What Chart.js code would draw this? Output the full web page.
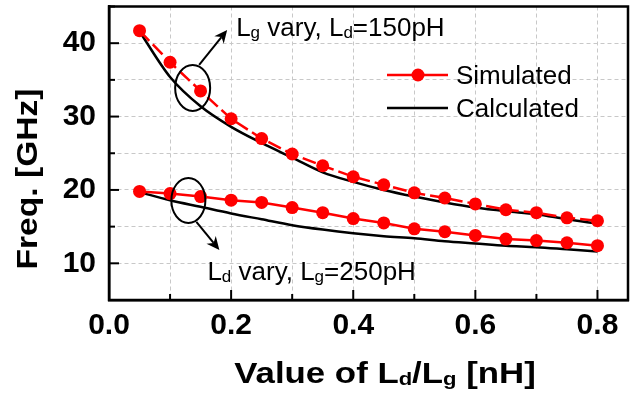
<!DOCTYPE html>
<html>
<head>
<meta charset="utf-8">
<title>Freq. vs Ld/Lg</title>
<script src="https://cdn.jsdelivr.net/npm/chart.js@4.4.1/dist/chart.umd.min.js"></script>
<style>
  html, body { margin: 0; padding: 0; background: #fff; }
  canvas { display: block; }
</style>
</head>
<body>
<canvas id="chart" width="638" height="395"></canvas>
<script>
// inductance sweep [nH]
const inductance = [0.05, 0.1, 0.15, 0.2, 0.25, 0.3, 0.35, 0.4, 0.45, 0.5, 0.55, 0.6, 0.65, 0.7, 0.75, 0.8];

// Lg vary, Ld = 150pH
const lgVarySim = [41.7, 37.4, 33.5, 29.7, 27.0, 24.9, 23.3, 21.8, 20.7, 19.6, 18.9, 18.1, 17.3, 16.9, 16.2, 15.8];
const lgVaryCalc = [41.6, 35.4, 31.4, 28.6, 26.4, 24.4, 22.4, 21.1, 20.0, 19.1, 18.3, 17.6, 17.1, 16.7, 16.0, 15.4];

// Ld vary, Lg = 250pH
const ldVarySim = [19.8, 19.5, 19.1, 18.6, 18.3, 17.6, 16.9, 16.1, 15.5, 14.7, 14.3, 13.8, 13.3, 13.1, 12.8, 12.4];
const ldVaryCalc = [19.7, 18.6, 17.7, 16.8, 16.0, 15.2, 14.6, 14.1, 13.7, 13.4, 13.0, 12.7, 12.4, 12.2, 11.9, 11.6];

const xLabels = [0.0, 0.2, 0.4, 0.6, 0.8];
const yLabels = [10, 20, 30, 40];
const legendNames = ['Simulated', 'Calculated'];

const FONT = "'Liberation Sans', Arial, sans-serif";
const RED = '#ff0000';

function toPoints(ys) {
  return inductance.map((x, i) => ({ x: x, y: ys[i] }));
}

function richWidth(ctx, parts, size, subSize, weight) {
  let w = 0;
  parts.forEach(p => {
    ctx.font = weight + ' ' + (p[1] ? subSize : size) + 'px ' + FONT;
    w += ctx.measureText(p[0]).width;
  });
  return w;
}

// text with subscripts, x = left edge, y = baseline
function drawRich(ctx, parts, x, y, size, subSize, weight) {
  let cx = x;
  ctx.textAlign = 'left';
  ctx.textBaseline = 'alphabetic';
  parts.forEach(p => {
    ctx.font = weight + ' ' + (p[1] ? subSize : size) + 'px ' + FONT;
    ctx.fillText(p[0], cx, p[1] ? y + 2 : y);
    cx += ctx.measureText(p[0]).width;
  });
}

function arrow(ctx, x1, y1, x2, y2) {
  const a = Math.atan2(y2 - y1, x2 - x1);
  const len = 13, half = 6;
  ctx.beginPath();
  ctx.moveTo(x1, y1);
  ctx.lineTo(x2 - Math.cos(a) * len * 0.7, y2 - Math.sin(a) * len * 0.7);
  ctx.stroke();
  ctx.beginPath();
  ctx.moveTo(x2, y2);
  ctx.lineTo(x2 - Math.cos(a) * len - Math.sin(a) * half, y2 - Math.sin(a) * len + Math.cos(a) * half);
  ctx.lineTo(x2 - Math.cos(a) * len * 0.7, y2 - Math.sin(a) * len * 0.7);
  ctx.lineTo(x2 - Math.cos(a) * len + Math.sin(a) * half, y2 - Math.sin(a) * len - Math.cos(a) * half);
  ctx.closePath();
  ctx.fill();
}

// axis titles, legend, annotations, then frame and inward ticks
const extrasPlugin = {
  id: 'extras',
  afterDraw(chart) {
    const ctx = chart.ctx;
    const xs = chart.scales.x, ys = chart.scales.y;
    ctx.save();
    ctx.setLineDash([]);
    ctx.fillStyle = '#000000';

    // axis titles
    const xt = [['Value of L'], ['d', 1], ['/L'], ['g', 1], [' [nH]']];
    const w = richWidth(ctx, xt, 30, 19, 'bold');
    ctx.save();
    ctx.translate(385, 383);
    ctx.scale(1.16, 1);
    drawRich(ctx, xt, -w / 2, 0, 30, 19, 'bold');
    ctx.restore();

    ctx.save();
    ctx.translate(37, 179);
    ctx.rotate(-Math.PI / 2);
    ctx.scale(1.12, 1);
    ctx.font = 'bold 30px ' + FONT;
    ctx.textAlign = 'center';
    ctx.textBaseline = 'alphabetic';
    ctx.fillText('Freq. [GHz]', 0, 0);
    ctx.restore();

    // legend
    ctx.strokeStyle = RED;
    ctx.fillStyle = RED;
    ctx.lineWidth = 2.5;
    ctx.beginPath();
    ctx.moveTo(387, 75);
    ctx.lineTo(448, 75);
    ctx.stroke();
    ctx.beginPath();
    ctx.arc(418, 75, 6.5, 0, Math.PI * 2);
    ctx.fill();
    ctx.strokeStyle = '#000000';
    ctx.beginPath();
    ctx.moveTo(387, 108);
    ctx.lineTo(448, 108);
    ctx.stroke();
    ctx.fillStyle = '#000000';
    ctx.font = '26px ' + FONT;
    ctx.textAlign = 'left';
    ctx.textBaseline = 'alphabetic';
    ctx.fillText(legendNames[0], 456, 84);
    ctx.fillText(legendNames[1], 456, 117);

    // Lg vary group
    ctx.lineWidth = 2;
    let cx = xs.getPixelForValue(0.137), cy = ys.getPixelForValue(33.9);
    ctx.beginPath();
    ctx.ellipse(cx, cy, 17.5, 23, 0, 0, Math.PI * 2);
    ctx.stroke();
    arrow(ctx, cx + 6.5, cy - 23, cx + 34.5, cy - 58);
    drawRich(ctx, [['L'], ['g', 1], [' vary, L'], ['d', 1], ['=150pH']], cx + 43.5, cy - 51.5, 26, 17, 'normal');

    // Ld vary group
    cx = xs.getPixelForValue(0.13);
    cy = ys.getPixelForValue(18.57);
    ctx.beginPath();
    ctx.ellipse(cx, cy, 17, 22.5, 0, 0, Math.PI * 2);
    ctx.stroke();
    arrow(ctx, cx + 8, cy + 21.5, cx + 31, cy + 49.5);
    drawRich(ctx, [['L'], ['d', 1], [' vary, L'], ['g', 1], ['=250pH']], cx + 19, cy + 79.5, 26, 17, 'normal');

    // frame round the plot area
    const left = xs.getPixelForValue(xs.min), right = xs.getPixelForValue(xs.max);
    const top = ys.getPixelForValue(ys.max), bottom = ys.getPixelForValue(ys.min);
    ctx.strokeStyle = '#000000';
    ctx.lineWidth = 2.5;
    ctx.beginPath();
    ctx.moveTo(left, top);
    ctx.lineTo(right, top);
    ctx.lineTo(right, bottom);
    ctx.lineTo(left, bottom);
    ctx.closePath();
    ctx.stroke();

    // ticks pointing inwards
    ctx.lineWidth = 2;
    xs.ticks.forEach(t => {
      const px = xs.getPixelForValue(t.value);
      const major = xLabels.some(v => Math.abs(v - t.value) < 1e-6);
      ctx.beginPath();
      ctx.moveTo(px, bottom);
      ctx.lineTo(px, bottom - (major ? 10 : 6));
      ctx.stroke();
    });
    ys.ticks.forEach(t => {
      const py = ys.getPixelForValue(t.value);
      const major = yLabels.includes(t.value);
      ctx.beginPath();
      ctx.moveTo(left, py);
      ctx.lineTo(left + (major ? 10 : 6), py);
      ctx.stroke();
    });
    ctx.restore();
  }
};

const simStyle = {
  borderColor: RED,
  backgroundColor: RED,
  borderWidth: 2.5,
  pointRadius: 6.5,
  pointBorderWidth: 0,
  pointBackgroundColor: RED,
  tension: 0
};
const calcStyle = {
  borderColor: '#000',
  backgroundColor: '#000',
  borderWidth: 2.5,
  pointRadius: 0,
  cubicInterpolationMode: 'monotone'
};

new Chart(document.getElementById('chart'), {
  type: 'line',
  data: {
    datasets: [
      Object.assign({ label: 'Simulated (Lg vary)', data: toPoints(lgVarySim), borderDash: [14, 5] }, simStyle),
      Object.assign({ label: 'Simulated (Ld vary)', data: toPoints(ldVarySim) }, simStyle),
      Object.assign({ label: 'Calculated (Lg vary)', data: toPoints(lgVaryCalc) }, calcStyle),
      Object.assign({ label: 'Calculated (Ld vary)', data: toPoints(ldVaryCalc) }, calcStyle)
    ]
  },
  options: {
    responsive: false,
    animation: false,
    layout: { padding: { top: 6, right: 10, left: 0, bottom: 0 } },
    plugins: {
      legend: { display: false },
      tooltip: { enabled: false }
    },
    scales: {
      x: {
        type: 'linear',
        min: 0,
        max: 0.85,
        afterFit: (s) => { s.height = 95; s.paddingLeft = 0; s.paddingRight = 0; },
        grid: { color: '#c8c8c8', lineWidth: 1, drawTicks: false },
        border: { display: true, color: '#000', width: 2.5, dash: [4, 3] },
        ticks: {
          stepSize: 0.1,
          includeBounds: false,
          autoSkip: false,
          maxRotation: 0,
          padding: 8,
          color: '#000',
          font: { family: FONT, size: 30, weight: 'bold' },
          callback: (v) => xLabels.some(t => Math.abs(t - v) < 1e-6) ? v.toFixed(1) : ''
        }
      },
      y: {
        min: 5,
        max: 45,
        afterFit: (s) => { s.width = 109; s.paddingTop = 0; s.paddingBottom = 0; },
        grid: { color: '#c8c8c8', lineWidth: 1, drawTicks: false },
        border: { display: true, color: '#000', width: 2.5, dash: [4, 3] },
        ticks: {
          stepSize: 5,
          includeBounds: false,
          autoSkip: false,
          padding: 13,
          color: '#000',
          font: { family: FONT, size: 30, weight: 'bold' },
          callback: (v) => yLabels.includes(v) ? String(v) : ''
        }
      }
    }
  },
  plugins: [extrasPlugin]
});
</script>
</body>
</html>
